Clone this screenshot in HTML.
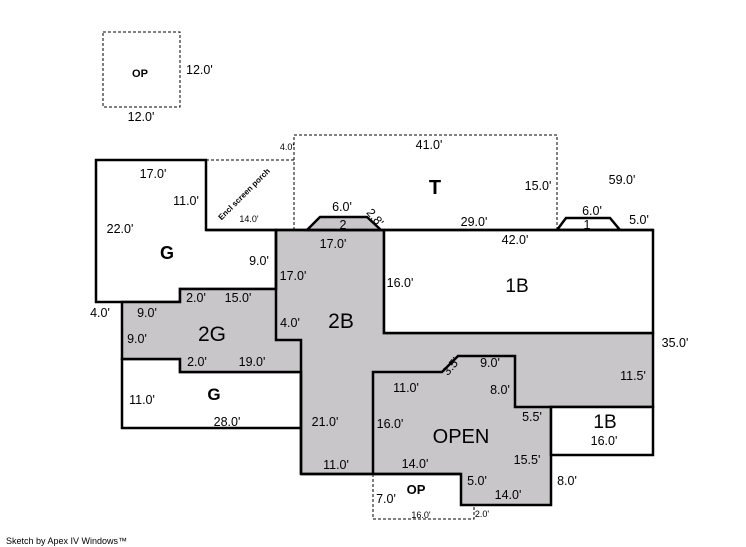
<!DOCTYPE html>
<html><head><meta charset="utf-8"><style>
html,body{margin:0;padding:0;background:#fff;}
svg{display:block;font-family:"Liberation Sans",sans-serif;}
.d{font-size:12.5px;}
.s{font-size:9px;}
</style></head><body>
<svg width="746" height="547" viewBox="0 0 746 547" xmlns="http://www.w3.org/2000/svg">
<g fill="none" stroke="#000" stroke-width="1" stroke-dasharray="3,2">
<rect x="103" y="32" width="77" height="75"/>
<polyline points="294,230 294,135 557,135 557,230"/>
<line x1="206" y1="160" x2="294" y2="160"/>
<polyline points="373,474 373,519 474,519 474,505"/>
</g>
<g stroke="#000" stroke-width="2.5" stroke-linejoin="miter">
<polygon fill="#fff" points="96,160 206,160 206,230 276,230 276,289 180,289 180,302 96,302"/>
<polygon fill="#fff" points="122,359 180,359 180,372 301,372 301,428 122,428"/>
<polygon fill="#c8c6c8" points="276,230 384,230 384,333 653,333 653,407 551,407 551,505 461,505 461,474 301,474 301,372 180,372 180,359 122,359 122,302 180,302 180,289 276,289"/>
<polygon fill="#c8c6c8" points="307,230 320,217 367,217 381,230"/>
<polygon fill="#fff" points="557,230 566,218 610,218 620,230"/>
<polygon fill="#fff" points="384,230 653,230 653,333 384,333"/>
<polygon fill="#fff" points="551,407 653,407 653,455 551,455"/>
<polyline fill="none" points="206,230 653,230"/>
<polyline fill="none" points="276,230 276,340 301,340 301,474"/>
<polyline fill="none" points="373,474 373,372 442,372 458,356 515,356 515,407 551,407"/>
<line x1="301" y1="474" x2="461" y2="474"/>
</g>
<g fill="#000">
<text x="140" y="77" font-size="11" font-weight="bold" text-anchor="middle">OP</text>
<text x="186" y="74" class="d">12.0'</text>
<text x="141" y="121" class="d" text-anchor="middle">12.0'</text>
<text x="287" y="150" class="s" text-anchor="middle">4.0'</text>
<text x="429" y="149" class="d" text-anchor="middle">41.0'</text>
<text x="435" y="194" font-size="20" font-weight="bold" text-anchor="middle">T</text>
<text x="538" y="190" class="d" text-anchor="middle">15.0'</text>
<text x="622" y="184" class="d" text-anchor="middle">59.0'</text>
<text x="153" y="178" class="d" text-anchor="middle">17.0'</text>
<text x="186" y="205" class="d" text-anchor="middle">11.0'</text>
<text x="120" y="233" class="d" text-anchor="middle">22.0'</text>
<text x="167" y="259" font-size="18" font-weight="bold" text-anchor="middle">G</text>
<text x="259" y="265" class="d" text-anchor="middle">9.0'</text>
<text x="246" y="196" font-size="8" font-weight="bold" text-anchor="middle" transform="rotate(-45 246 196)">Encl screen porch</text>
<text x="249" y="222" class="s" text-anchor="middle">14.0'</text>
<text x="342" y="211" class="d" text-anchor="middle">6.0'</text>
<text x="343" y="229" class="d" text-anchor="middle">2</text>
<text x="372" y="220" font-size="12" text-anchor="middle" transform="rotate(50 372 220)">2.8'</text>
<text x="333" y="248" class="d" text-anchor="middle">17.0'</text>
<text x="293" y="280" class="d" text-anchor="middle">17.0'</text>
<text x="474" y="226" class="d" text-anchor="middle">29.0'</text>
<text x="515" y="244" class="d" text-anchor="middle">42.0'</text>
<text x="592" y="215" class="d" text-anchor="middle">6.0'</text>
<text x="587" y="229" class="d" text-anchor="middle">1</text>
<text x="639" y="224" class="d" text-anchor="middle">5.0'</text>
<text x="400" y="287" class="d" text-anchor="middle">16.0'</text>
<text x="517" y="292" font-size="19" text-anchor="middle">1B</text>
<text x="100" y="317" class="d" text-anchor="middle">4.0'</text>
<text x="147" y="317" class="d" text-anchor="middle">9.0'</text>
<text x="196" y="302" class="d" text-anchor="middle">2.0'</text>
<text x="238" y="302" class="d" text-anchor="middle">15.0'</text>
<text x="212" y="341" font-size="21" text-anchor="middle">2G</text>
<text x="137" y="343" class="d" text-anchor="middle">9.0'</text>
<text x="290" y="327" class="d" text-anchor="middle">4.0'</text>
<text x="341" y="328" font-size="21" text-anchor="middle">2B</text>
<text x="675" y="347" class="d" text-anchor="middle">35.0'</text>
<text x="197" y="366" class="d" text-anchor="middle">2.0'</text>
<text x="252" y="366" class="d" text-anchor="middle">19.0'</text>
<text x="142" y="404" class="d" text-anchor="middle">11.0'</text>
<text x="214" y="400" font-size="17" font-weight="bold" text-anchor="middle">G</text>
<text x="227" y="426" class="d" text-anchor="middle">28.0'</text>
<text x="325" y="426" class="d" text-anchor="middle">21.0'</text>
<text x="336" y="469" class="d" text-anchor="middle">11.0'</text>
<text x="406" y="392" class="d" text-anchor="middle">11.0'</text>
<text x="454" y="369" font-size="12" text-anchor="middle" transform="rotate(-50 454 369)">3.5'</text>
<text x="490" y="367" class="d" text-anchor="middle">9.0'</text>
<text x="500" y="394" class="d" text-anchor="middle">8.0'</text>
<text x="633" y="380" class="d" text-anchor="middle">11.5'</text>
<text x="390" y="428" class="d" text-anchor="middle">16.0'</text>
<text x="461" y="443" font-size="20" text-anchor="middle">OPEN</text>
<text x="532" y="421" class="d" text-anchor="middle">5.5'</text>
<text x="605" y="428" font-size="19" text-anchor="middle">1B</text>
<text x="604" y="445" class="d" text-anchor="middle">16.0'</text>
<text x="527" y="464" class="d" text-anchor="middle">15.5'</text>
<text x="415" y="468" class="d" text-anchor="middle">14.0'</text>
<text x="477" y="485" class="d" text-anchor="middle">5.0'</text>
<text x="508" y="499" class="d" text-anchor="middle">14.0'</text>
<text x="567" y="485" class="d" text-anchor="middle">8.0'</text>
<text x="416" y="494" font-size="13" font-weight="bold" text-anchor="middle">OP</text>
<text x="386" y="503" class="d" text-anchor="middle">7.0'</text>
<text x="421" y="518" class="s" text-anchor="middle">16.0'</text>
<text x="482" y="517" class="s" text-anchor="middle">2.0'</text>
<text x="6" y="544" class="s">Sketch by Apex IV Windows™</text>
</g>
</svg>
</body></html>
